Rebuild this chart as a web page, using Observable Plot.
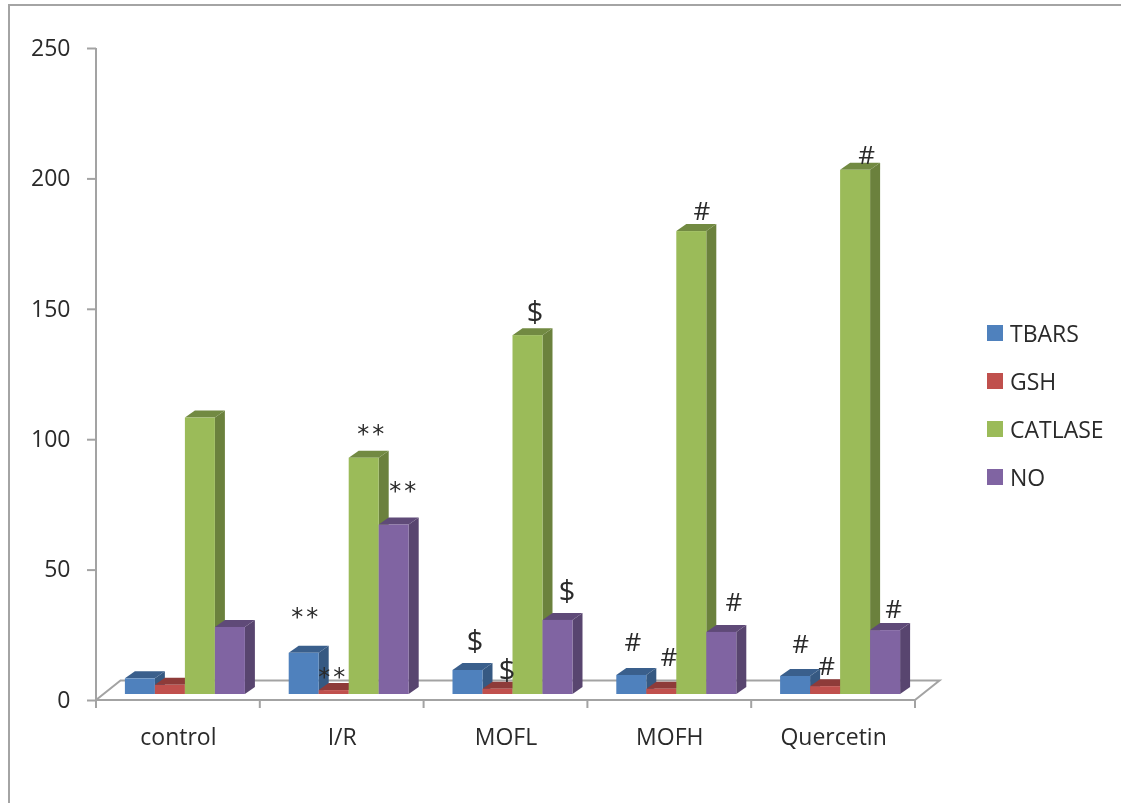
<!DOCTYPE html>
<html>
<head>
<meta charset="utf-8">
<style>
  html, body { margin: 0; padding: 0; background: #fff; }
  #stage { position: relative; width: 1121px; height: 803px; overflow: hidden; font-family: "Open Sans", Lato, sans-serif; color: #2a2a2a; }
  #stage svg { display: block; filter: blur(0.5px); }
  #sheet { position: absolute; left: 8px; top: 4px; right: -4px; bottom: -4px; border-left: 2px solid #a4a4a4; border-top: 2px solid #a4a4a4; filter: blur(0.4px); pointer-events: none; }
  #legend { position: absolute; left: 987px; top: 309px; filter: blur(0.4px); }
  .entry { display: flex; align-items: center; height: 48px; font-size: 23px; }
  .swatch { width: 16px; height: 16px; margin-right: 7px; flex: none; }
</style>
<script src="https://cdn.jsdelivr.net/npm/d3@7"></script>
<script src="https://cdn.jsdelivr.net/npm/@observablehq/plot@0.6"></script>
</head>
<body>
<div id="stage"></div>
<script>
const categories = ["control", "I/R", "MOFL", "MOFH", "Quercetin"];
const seriesNames = ["TBARS", "GSH", "CATLASE", "NO"];
const seriesColors = ["#4F81BD", "#C0504D", "#9BBB59", "#8064A2"];
const yTicks = [0, 50, 100, 150, 200, 250];

const TBARS = [6, 15.8, 9.2, 7.3, 6.9];
const GSH = [3.5, 1.5, 2, 2, 3];
const CATLASE = [106, 90.6, 137.6, 177.5, 201];
const NO = [25.7, 65, 28.4, 23.8, 24.5];
const seriesValues = [TBARS, GSH, CATLASE, NO];

// significance marks per category and series (empty = none)
const marksTBARS = ["", "**", "$", "#", "#"];
const marksGSH = ["", "**", "$", "#", "#"];
const marksCATLASE = ["", "**", "$", "#", "#"];
const marksNO = ["", "**", "$", "#", "#"];
const seriesMarks = [marksTBARS, marksGSH, marksCATLASE, marksNO];

const bars = seriesNames.flatMap((s, j) =>
  categories.map((c, i) => ({category: c, series: s, value: seriesValues[j][i], mark: seriesMarks[j][i]}))
);

// Styling of the pseudo-3D look
const gray = "#a3a3a3";
const textColor = "#2a2a2a";
const font = "'Open Sans', Lato, sans-serif";
const depthX = 10, depthY = 7;
const barDx = 7, barDy = -6;

// hand placement of each mark relative to its bar top [category][series]
const nudges = {
  "I/R":       {TBARS: [2, -38], GSH: [-1, -15], CATLASE: [8, -26], NO: [10, -36]},
  "MOFL":      {TBARS: [7, -29], GSH: [9, -19], CATLASE: [7, -23], NO: [9, -29]},
  "MOFH":      {TBARS: [1, -33], GSH: [7, -32], CATLASE: [10, -20], NO: [12, -30]},
  "Quercetin": {TBARS: [5, -32], GSH: [1, -20], CATLASE: [11, -15], NO: [8, -21]}
};

function faces3d(index, scales, values, dimensions, context, next) {
  const g = next(index, scales, values, dimensions, context);
  for (const rect of Array.from(g.querySelectorAll("rect"))) {
    const x = +rect.getAttribute("x"), y = +rect.getAttribute("y");
    const w = +rect.getAttribute("width"), h = +rect.getAttribute("height");
    const base = d3.color(rect.getAttribute("fill"));
    const parent = rect.parentNode;
    const add = (pts, fill) => {
      const p = document.createElementNS("http://www.w3.org/2000/svg", "polygon");
      p.setAttribute("points", pts.map(q => q.join(",")).join(" "));
      p.setAttribute("fill", fill);
      parent.insertBefore(p, rect);
    };
    add([[x + w, y], [x + w + depthX, y - depthY], [x + w + depthX, y + h - depthY], [x + w, y + h]], base.darker(1.05).formatHex());
    add([[x, y], [x + depthX, y - depthY], [x + w + depthX, y - depthY], [x + w, y]], base.darker(0.85).formatHex());
    parent.appendChild(parent.removeChild(rect));
  }
  return g;
}

function spacedText(index, scales, values, dimensions, context, next) {
  const g = next(index, scales, values, dimensions, context);
  g.style.letterSpacing = "3px";
  return g;
}

// function marks run once per facet: the shared floor and axis lines are drawn only for the first
let floorDrawn = false;
function axesAndFloor(index, scales) {
  if (floorDrawn) return null;
  floorDrawn = true;
  const {fx, y} = scales;
  const x0 = fx(categories[0]);
  const step = fx(categories[1]) - fx(categories[0]);
  const x1 = x0 + step * categories.length;
  const y0 = y(0), yTop = y(yTicks[yTicks.length - 1]);
  const backDx = 24.5, backDy = -19.5;
  const g = d3.create("svg:g").attr("fill", "none").attr("stroke", gray).attr("stroke-width", 2);
  g.append("path").attr("d", `M${x0},${y0}L${x0 + backDx},${y0 + backDy}L${x1 + backDx},${y0 + backDy}L${x1},${y0}`);
  g.append("path").attr("d", `M${x0},${yTop}V${y0 + 8}`);
  g.append("path").attr("d", `M${x0},${y0}H${x1}`);
  for (let i = 1; i <= categories.length; i++) {
    g.append("path").attr("d", `M${x0 + step * i},${y0}v8`);
  }
  return g.node();
}

const annotationMarks = bars.filter(d => d.mark).map(d => {
  const [nx, ny] = nudges[d.category][d.series];
  const star = d.mark === "**";
  return Plot.text([d], {
    fx: "category", x: "series", y: "value", text: "mark",
    dx: barDx + nx, dy: barDy + ny + (star ? 2 : 0),
    fontSize: star ? 24 : d.mark === "$" ? 29 : 26, fill: textColor,
    fontFamily: star ? "'DejaVu Sans', sans-serif" : font,
    ...(star ? {render: spacedText} : {})
  });
});

const chart = Plot.plot({
  width: 1121, height: 803,
  marginLeft: 96, marginRight: 206, marginTop: 48, marginBottom: 103,
  style: {background: "transparent", fontFamily: font},
  fx: {domain: categories, padding: 0, round: false, label: null, axis: null},
  x: {domain: seriesNames, padding: 0, paddingOuter: 0.73, round: false, axis: null, label: null},
  y: {domain: [0, 250], label: null, axis: null},
  color: {domain: seriesNames, range: seriesColors},
  marks: [
    axesAndFloor,
    Plot.axisY({ticks: yTicks, tickSize: 9, tickPadding: 17, stroke: gray, strokeWidth: 2, strokeOpacity: 1, fontSize: 23, fill: textColor, label: null, fontFamily: font}),
    Plot.axisFx({domain: categories, tickSize: 0, tickPadding: 28, fontSize: 23, fill: textColor, label: null, fontFamily: font, anchor: "bottom"}),
    Plot.barY(bars, {
      fx: "category", x: "series", y: "value", fill: "series",
      dx: barDx, dy: barDy, inset: 0, render: faces3d
    }),
    ...annotationMarks
  ]
});

const stage = document.getElementById("stage");
stage.appendChild(chart);
const sheet = document.createElement("div");
sheet.id = "sheet";
stage.appendChild(sheet);
const legend = document.createElement("div");
legend.id = "legend";
seriesNames.forEach((name, i) => {
  const row = document.createElement("div");
  row.className = "entry";
  const sw = document.createElement("span");
  sw.className = "swatch";
  sw.style.background = seriesColors[i];
  const label = document.createElement("span");
  label.textContent = name;
  row.append(sw, label);
  legend.appendChild(row);
});
stage.appendChild(legend);
</script>
</body>
</html>
